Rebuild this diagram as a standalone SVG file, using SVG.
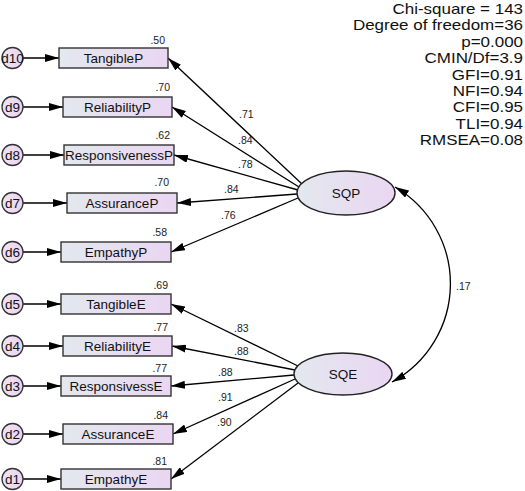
<svg xmlns="http://www.w3.org/2000/svg" width="525" height="491" viewBox="0 0 525 491">
<defs>
<linearGradient id="gb" x1="0" y1="0" x2="1" y2="0">
<stop offset="0" stop-color="#e3e8ee"/>
<stop offset="1" stop-color="#ead6f2"/>
</linearGradient>
<linearGradient id="gc" x1="0" y1="0" x2="1" y2="0">
<stop offset="0" stop-color="#f1e4f4"/>
<stop offset="1" stop-color="#e8d4ef"/>
</linearGradient>
<marker id="ah" viewBox="0 0 14 8" refX="14" refY="4" markerWidth="14" markerHeight="8" orient="auto-start-reverse" markerUnits="userSpaceOnUse">
<path d="M0,0 L14,4 L0,8 z" fill="#000"/>
</marker>
<style>
.box{fill:url(#gb);stroke:#333;stroke-width:1.4}
.lat{fill:url(#gb);stroke:#222;stroke-width:1.4}
.err{fill:url(#gc);stroke:#333;stroke-width:1.3}
.lbl{font-family:"Liberation Sans",Arial,sans-serif;font-size:13.5px;fill:#111;text-anchor:middle}
.dl{font-family:"Liberation Sans",Arial,sans-serif;font-size:13.5px;fill:#111;text-anchor:middle}
.num{font-family:"Liberation Sans",Arial,sans-serif;font-size:10.5px;fill:#222}
.st{font-family:"Liberation Sans",Arial,sans-serif;font-size:14.5px;fill:#111;text-anchor:end}
.ln{stroke:#000;stroke-width:1.3;fill:none;marker-end:url(#ah)}
</style>
</defs>
<rect width="525" height="491" fill="#fff"/>

<g id="connectors">
<line class="ln" x1="23" y1="58" x2="59" y2="58"/>
<line class="ln" x1="23" y1="107" x2="63" y2="107"/>
<line class="ln" x1="23" y1="155" x2="64" y2="155"/>
<line class="ln" x1="23" y1="203" x2="67" y2="203"/>
<line class="ln" x1="23" y1="252" x2="61" y2="252"/>
<line class="ln" x1="23" y1="304" x2="61" y2="304"/>
<line class="ln" x1="23" y1="346" x2="63" y2="346"/>
<line class="ln" x1="23" y1="386" x2="61" y2="386"/>
<line class="ln" x1="23" y1="434" x2="63" y2="434"/>
<line class="ln" x1="23" y1="479" x2="61" y2="479"/>
<line class="ln" x1="302" y1="184" x2="168" y2="58"/>
<line class="ln" x1="299" y1="187" x2="172" y2="107"/>
<line class="ln" x1="298" y1="190" x2="174" y2="155"/>
<line class="ln" x1="297" y1="194" x2="177" y2="203"/>
<line class="ln" x1="298" y1="198" x2="171" y2="252"/>
<line class="ln" x1="298" y1="366" x2="171" y2="304"/>
<line class="ln" x1="295" y1="370" x2="172" y2="346"/>
<line class="ln" x1="294" y1="375" x2="171" y2="386"/>
<line class="ln" x1="295" y1="379" x2="173" y2="434"/>
<line class="ln" x1="298" y1="383" x2="171" y2="479"/>
<path class="ln" d="M395,187 A112,112 0 0 1 392,382" style="marker-start:url(#ah)"/>
<text class="num" x="239" y="118">.71</text>
<text class="num" x="238" y="144">.84</text>
<text class="num" x="238" y="168">.78</text>
<text class="num" x="224" y="193">.84</text>
<text class="num" x="221" y="219">.76</text>
<text class="num" x="234" y="332">.83</text>
<text class="num" x="234" y="355">.88</text>
<text class="num" x="218" y="376">.88</text>
<text class="num" x="218" y="401">.91</text>
<text class="num" x="217" y="426">.90</text>
<text class="num" x="456" y="290">.17</text>
</g>

<g id="d10"><circle class="err" cx="12.5" cy="58" r="10.5"/><text class="dl" x="12.5" y="62.5">d10</text></g>
<g id="d9"><circle class="err" cx="12.5" cy="107" r="10.5"/><text class="dl" x="12.5" y="111.5">d9</text></g>
<g id="d8"><circle class="err" cx="12.5" cy="155" r="10.5"/><text class="dl" x="12.5" y="159.5">d8</text></g>
<g id="d7"><circle class="err" cx="12.5" cy="203" r="10.5"/><text class="dl" x="12.5" y="207.5">d7</text></g>
<g id="d6"><circle class="err" cx="12.5" cy="252" r="10.5"/><text class="dl" x="12.5" y="256.5">d6</text></g>
<g id="d5"><circle class="err" cx="12.5" cy="304" r="10.5"/><text class="dl" x="12.5" y="308.5">d5</text></g>
<g id="d4"><circle class="err" cx="12.5" cy="346" r="10.5"/><text class="dl" x="12.5" y="350.5">d4</text></g>
<g id="d3"><circle class="err" cx="12.5" cy="386" r="10.5"/><text class="dl" x="12.5" y="390.5">d3</text></g>
<g id="d2"><circle class="err" cx="12.5" cy="434" r="10.5"/><text class="dl" x="12.5" y="438.5">d2</text></g>
<g id="d1"><circle class="err" cx="12.5" cy="479" r="10.5"/><text class="dl" x="12.5" y="483.5">d1</text></g>

<g id="TangibleP"><rect class="box" x="59" y="48" width="109" height="20"/><text class="lbl" x="113.5" y="62.8">TangibleP</text><text class="num" x="165" y="44" text-anchor="end">.50</text></g>
<g id="ReliabilityP"><rect class="box" x="63" y="97" width="109" height="20"/><text class="lbl" x="117.5" y="111.8">ReliabilityP</text><text class="num" x="170" y="91" text-anchor="end">.70</text></g>
<g id="ResponsivenessP"><rect class="box" x="64" y="145" width="110" height="20"/><text class="lbl" x="119" y="159.8">ResponsivenessP</text><text class="num" x="170" y="139" text-anchor="end">.62</text></g>
<g id="AssuranceP"><rect class="box" x="67" y="193" width="110" height="20"/><text class="lbl" x="122" y="207.8">AssuranceP</text><text class="num" x="169" y="186" text-anchor="end">.70</text></g>
<g id="EmpathyP"><rect class="box" x="61" y="242" width="110" height="20"/><text class="lbl" x="116" y="256.8">EmpathyP</text><text class="num" x="167" y="236" text-anchor="end">.58</text></g>
<g id="TangibleE"><rect class="box" x="61" y="294" width="110" height="20"/><text class="lbl" x="116" y="308.8">TangibleE</text><text class="num" x="168" y="289" text-anchor="end">.69</text></g>
<g id="ReliabilityE"><rect class="box" x="63" y="336" width="109" height="20"/><text class="lbl" x="117.5" y="350.8">ReliabilityE</text><text class="num" x="168" y="331" text-anchor="end">.77</text></g>
<g id="ResponsivessE"><rect class="box" x="61" y="376" width="110" height="20"/><text class="lbl" x="116" y="390.8">ResponsivessE</text><text class="num" x="167" y="372" text-anchor="end">.77</text></g>
<g id="AssuranceE"><rect class="box" x="63" y="424" width="110" height="20"/><text class="lbl" x="118" y="438.8">AssuranceE</text><text class="num" x="168" y="419" text-anchor="end">.84</text></g>
<g id="EmpathyE"><rect class="box" x="61" y="469" width="110" height="20"/><text class="lbl" x="116" y="483.8">EmpathyE</text><text class="num" x="167" y="465" text-anchor="end">.81</text></g>

<g id="SQP"><ellipse class="lat" cx="346" cy="193" rx="49" ry="22"/><text class="lbl" x="346" y="198">SQP</text></g>
<g id="SQE"><ellipse class="lat" cx="343" cy="374" rx="49" ry="21"/><text class="lbl" x="343" y="379">SQE</text></g>

<g id="fit-stats" transform="translate(523 0) scale(1.17 1)">
<text class="st" x="0" y="14">Chi-square = 143</text>
<text class="st" x="0" y="30.5">Degree of freedom=36</text>
<text class="st" x="0" y="47">p=0.000</text>
<text class="st" x="0" y="63.3">CMIN/Df=3.9</text>
<text class="st" x="0" y="79.7">GFI=0.91</text>
<text class="st" x="0" y="96">NFI=0.94</text>
<text class="st" x="0" y="112.4">CFI=0.95</text>
<text class="st" x="0" y="128.8">TLI=0.94</text>
<text class="st" x="0" y="145.2">RMSEA=0.08</text>
</g>
</svg>
